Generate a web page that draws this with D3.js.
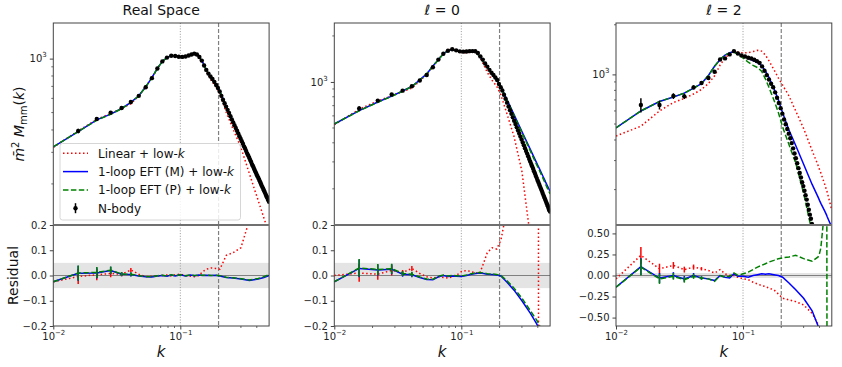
<!DOCTYPE html>
<html>
<head>
<meta charset="utf-8">
<title>Multipoles</title>
<script src="https://cdnjs.cloudflare.com/ajax/libs/d3/7.8.5/d3.min.js"></script>
<style>
  body { margin: 0; background: #fff; }
  svg { font-family: "DejaVu Sans", sans-serif; }
</style>
</head>
<body>
<svg id="chart" width="842" height="367"></svg>
<script>
// N-body k bins
const kData = [0.0157,0.0220,0.0283,0.0345,0.0408,0.0471,0.0534,0.0597,0.0660,0.0722,0.0785,0.0848,0.0911,0.0973,0.1036,0.1099,0.1162,0.1225,0.1287,0.1350,0.1413,0.1476,0.1539,0.1601,0.1664,0.1727,0.1790,0.1853,0.1915,0.1978,0.2041,0.2104,0.2167,0.2230,0.2292,0.2355,0.2418,0.2481,0.2544,0.2606,0.2669,0.2732,0.2795,0.2858,0.2920,0.2983,0.3046,0.3109,0.3172,0.3234,0.3297,0.3360,0.3423,0.3486,0.3548,0.3611,0.3674,0.3737,0.3800,0.3862,0.3925,0.3988,0.4051,0.4114,0.4176,0.4239,0.4302,0.4365,0.4428,0.4490,0.4553,0.4616,0.4679,0.4742,0.4804,0.4867,0.4930,0.4993];

const nbodyReal = [395,460,500,530,573,620,692,778,880,965,1013,1038,1035,1025,1022,1028,1040,1055,1066,1055,1020,975,915,865,825,795,770,742,712,685,655,
  620,590,564,540,518,497,477,458,441,425,410,396,382,369,357,346,335,324,315,305,296,288,280,272,265,257,251,244,238,232,226,221,216,211,206,201,196,192,188,184,180,176,172,169,166,162,159];
const nbodyL0 = [670,755,828,877,937,1022,1111,1248,1400,1530,1600,1636,1610,1585,1578,1582,1590,1592,1588,1545,1470,1400,1320,1260,1200,1150,1110,1070,1030,970,925,
  880,824,776,732,691,654,619,587,558,531,505,482,460,439,420,402,385,369,354,340,327,314,302,291,281,271,261,252,243,235,227,220,213,206,200,194,188,182,177,172,167,162,158,154,149,145,142];
const nbodyL2 = [652,652,739,736,834,886,950,1037,1230,1250,1322,1384,1340,1304,1285,
  1262,1248,1226,1203,1175,1118,1052,990,932,878,835,778,722,670,624,
  578,533,498,466,437,410,383,356,331,310,289,270,252,237,222,210,197,185,174,162,151,141,133,124,116,
  null,null,null,null,null,null,null,null,null,null,null,null,null,null,null,null,null,null,null,null,null,null,null];

// relative errors of the first N-body bins
const errReal = [0.03,0.022,0.015,0.008,0.008];
const errL0 = [0.035,0.022,0.02,0.01,0.01];
const errL2 = [0.1,0.06,0.04,0.035,0.03,0.02];

// theory k grid
const kModel = [0.01,0.0157,0.022,0.0283,0.0345,0.0408,0.0471,0.0534,0.0597,0.066,0.0722,0.0785,0.0848,0.0911,0.1,0.11,0.12,0.13,0.14,0.15,0.16,0.175,0.19,0.205,0.23,0.26,0.3,0.35,0.39,0.4,0.41,0.44,0.455,0.46,0.5];

const linReal  = [320,395,458,495,527,560,617,696,780,880,965,1012,1040,1032,1020,1028,1052,1068,1025,950,850,757,700,640,500,405,319,228,180,171,162,139,129,126,106];
const eftMReal = [322,392,455,490,527,570,620,696,783,882,965,1016,1036,1037,1022,1030,1048,1064,1028,955,866,776,718,656,541,448,360,284,238,229,220,196,185,182,159];
const eftPReal = [322,392,454,489,526,569,620,695,782,881,964,1015,1036,1037,1021,1030,1048,1064,1028,955,866,776,718,656,540,447,359,283,237,228,219,195,184,181,158];

const linL0  = [525,663,751,812,866,911,1014,1117,1260,1407,1542,1616,1644,1610,1562,1551,1567,1570,1450,1295,1156,1022,937,820,610,440,260,95,30,20,10,null,null,null,null];
const eftML0 = [531,650,739,808,873,934,1032,1129,1270,1400,1530,1600,1636,1612,1586,1582,1590,1572,1466,1350,1254,1130,1040,930,759,611,474,361,298,285,273,241,227,222,192];
const eftPL0 = [531,648,737,806,870,932,1030,1127,1268,1398,1528,1600,1634,1611,1585,1580,1588,1570,1464,1348,1252,1128,1038,930,755,605,466,353,290,278,266,234,220,215,185];

const linL2  = [423,485,600,675,715,760,810,880,980,1140,1260,1330,1370,1365,1350,1355,1375,1400,1385,1310,1210,1070,950,860,740,600,470,345,280,265,252,215,198,193,150];
const eftML2 = [474,600,685,730,770,825,880,985,1120,1230,1310,1355,1371,1340,1295,1250,1215,1180,1130,1050,960,820,700,585,460,370,285,215,180,172,165,148,140,137,118];
const eftPL2 = [474,600,685,730,770,825,880,985,1120,1230,1310,1350,1365,1320,1260,1185,1135,1100,1045,940,835,700,585,480,375,290,190,110,75,65,55,38,28,null,null];

// residuals on the theory grid
const resLinReal = [-0.025,-0.004,0.003,0.008,0.005,0.022,0.005,-0.005,-0.003,-0.002,0.0,0.002,-0.002,0.003,0.005,0.0,-0.003,-0.005,0.0,0.015,0.025,0.03,0.028,0.025,0.08,0.09,0.11,0.22,0.3,0.32,0.34,0.4,0.43,0.44,0.5];
const resMReal = [-0.025,0.009,0.01,0.02,0.005,0.004,-0.002,-0.005,-0.006,-0.002,0.0,-0.003,0.002,-0.002,0.003,-0.002,0.002,-0.001,0.002,0.0,0.001,0.0,0.001,-0.002,-0.008,-0.01,-0.014,-0.02,-0.016,-0.015,-0.014,-0.01,-0.008,-0.007,0.0];
const resPReal = [-0.025,0.01,0.012,0.021,0.006,0.005,-0.001,-0.004,-0.005,-0.001,0.001,-0.002,0.003,-0.001,0.003,-0.001,0.002,0.0,0.002,0.001,0.001,0.0,0.001,-0.001,-0.007,-0.009,-0.013,-0.018,-0.014,-0.013,-0.012,-0.008,-0.005,-0.004,0.004];

const resLinL0 = [0.0,0.01,0.005,0.02,0.012,0.028,0.008,-0.005,-0.01,-0.005,-0.008,-0.01,-0.005,0.0,0.015,0.02,0.015,0.01,0.01,0.05,0.09,0.11,0.105,0.14,0.27,0.45,0.6,1.2,2.5,5,-5,-3,-2.5,-2.4,-2];
const resML0 = [-0.025,0.028,0.022,0.025,0.005,0.003,-0.008,-0.016,-0.017,-0.005,0.0,-0.004,-0.002,-0.003,-0.004,0.0,0.005,0.008,0.01,0.008,0.005,0.004,0.002,-0.002,-0.028,-0.058,-0.1,-0.15,-0.19,-0.2,-0.21,-0.245,-0.26,-0.265,-0.3];
const resPL0 = [-0.025,0.03,0.024,0.027,0.008,0.005,-0.006,-0.014,-0.015,-0.003,0.002,-0.002,0.0,-0.001,-0.002,0.002,0.007,0.01,0.012,0.01,0.007,0.006,0.004,0.0,-0.022,-0.05,-0.09,-0.14,-0.175,-0.185,-0.195,-0.23,-0.245,-0.25,-0.28];

const resLinL2 = [-0.04,0.24,0.08,0.12,0.07,0.1,0.08,0.06,0.03,0.07,0.02,0.0,0.0,-0.02,-0.04,-0.05,-0.08,-0.1,-0.12,-0.13,-0.15,-0.17,-0.22,-0.27,-0.29,-0.31,-0.35,-0.45,-0.58,-0.62,-0.66,-0.78,-0.83,-0.85,-1.0];
const resML2 = [-0.14,0.106,-0.03,0.0,-0.04,0.0,-0.03,-0.04,-0.06,0.0,-0.02,-0.03,0.02,-0.01,-0.01,-0.02,0.0,0.01,0.02,0.015,0.02,0.01,0.0,-0.02,-0.09,-0.17,-0.27,-0.42,-0.6,-0.64,-0.68,-0.8,-0.85,-0.87,-1.0];
const resPL2 = [-0.14,0.1,-0.04,-0.01,-0.05,-0.01,-0.03,-0.04,-0.07,0.0,-0.02,-0.01,0.03,0.0,0.02,0.04,0.07,0.1,0.12,0.14,0.16,0.18,0.2,0.21,0.22,0.24,0.2,0.17,0.22,0.26,0.33,0.8,3,-3,-2];

// ticks
const xMajor = [0.01, 0.1];
const xMinor = [0.02,0.03,0.04,0.05,0.06,0.07,0.08,0.09,0.2,0.3,0.4];
const yMajor = [1000];
const yMinor = [200,300,400,500,600,700,800,900,2000];
const resTicksSmall = [-0.2,-0.1,0,0.1,0.2];
const resTicksWide = [-0.5,-0.25,0,0.25,0.5];
const kDotted = 0.1, kDashed = 0.2;

const panels = [
  { title: "Real Space", left: 53.3, yDom: [118, 1580], nbody: nbodyReal, err: errReal,
    lin: linReal, eftM: eftMReal, eftP: eftPReal, rLin: resLinReal, rM: resMReal, rP: resPReal,
    rLim: 0.2, rTicks: resTicksSmall, rFmt: ".1f", band: 0.05 },
  { title: "l0", left: 334.3, yDom: [116, 2430], nbody: nbodyL0, err: errL0,
    lin: linL0, eftM: eftML0, eftP: eftPL0, rLin: resLinL0, rM: resML0, rP: resPL0,
    rLim: 0.2, rTicks: resTicksSmall, rFmt: ".1f", band: 0.05 },
  { title: "l2", left: 616, yDom: [122, 2050], nbody: nbodyL2, err: errL2,
    lin: linL2, eftM: eftML2, eftP: eftPL2, rLin: resLinL2, rM: resML2, rP: resPL2,
    rLim: 0.6, rTicks: resTicksWide, rFmt: ".2f", band: 0.03 }
];

const W = 215.8, topY = 23, midY = 225, botY = 326;
const RED = "#ff0000", BLUE = "#0000ff", GREEN = "#008000";
const svg = d3.select("#chart");
const defs = svg.append("defs");

function supText(sel, base, sup) {
  sel.text(base);
  sel.append("tspan").attr("dy", -5).attr("font-size", 7).text(sup);
}

panels.forEach((p, i) => {
  const x = d3.scaleLog().domain([0.01, 0.5]).range([p.left, p.left + W]);
  const y = d3.scaleLog().domain(p.yDom).range([midY, topY]);
  const yr = d3.scaleLinear().domain([-p.rLim, p.rLim]).range([botY, midY]);
  const g = svg.append("g");

  defs.append("clipPath").attr("id", "ct" + i).append("rect")
    .attr("x", p.left).attr("y", topY).attr("width", W).attr("height", midY - topY);
  defs.append("clipPath").attr("id", "cb" + i).append("rect")
    .attr("x", p.left).attr("y", midY).attr("width", W).attr("height", botY - midY);

  const top = g.append("g").attr("clip-path", `url(#ct${i})`);
  const bot = g.append("g").attr("clip-path", `url(#cb${i})`);

  // residual band and zero line
  bot.append("rect").attr("x", p.left).attr("width", W)
    .attr("y", yr(p.band)).attr("height", yr(-p.band) - yr(p.band)).attr("fill", "#e4e4e4");
  bot.append("line").attr("x1", p.left).attr("x2", p.left + W)
    .attr("y1", yr(0)).attr("y2", yr(0)).attr("stroke", "#808080").attr("stroke-width", 1.2);

  // reference scales
  [[top, topY, midY], [bot, midY, botY]].forEach(([s, a, b]) => {
    s.append("line").attr("x1", x(kDotted)).attr("x2", x(kDotted)).attr("y1", a).attr("y2", b)
      .attr("stroke", "#999").attr("stroke-width", 1).attr("stroke-dasharray", "1,1.7");
    s.append("line").attr("x1", x(kDashed)).attr("x2", x(kDashed)).attr("y1", a).attr("y2", b)
      .attr("stroke", "#808080").attr("stroke-width", 1.2).attr("stroke-dasharray", "4,2");
  });

  const styles = [
    { key: "lin", rkey: "rLin", color: RED, dash: "1.5,2.5" },
    { key: "eftM", rkey: "rM", color: BLUE, dash: null },
    { key: "eftP", rkey: "rP", color: GREEN, dash: "5.5,2.4" }
  ];

  const lineTop = d3.line().defined(d => d[1] != null && d[1] > 0)
    .x(d => x(d[0])).y(d => y(d[1]));
  const lineRes = d3.line().x(d => x(d[0])).y(d => yr(d[1]));

  styles.forEach(s => {
    top.append("path").datum(kModel.map((k, j) => [k, p[s.key][j]]))
      .attr("d", lineTop).attr("fill", "none").attr("stroke", s.color)
      .attr("stroke-width", 1.5).attr("stroke-dasharray", s.dash);
  });
  styles.forEach(s => {
    const vals = p[s.rkey];
    bot.append("path").datum(kModel.map((k, j) => [k, vals[j]]))
      .attr("d", lineRes).attr("fill", "none").attr("stroke", s.color)
      .attr("stroke-width", 1.5).attr("stroke-dasharray", s.dash);
    // error bars at the first data bins
    p.err.forEach((e, j) => {
      const k = kModel[j + 1], r = vals[j + 1];
      bot.append("line").attr("x1", x(k)).attr("x2", x(k))
        .attr("y1", yr(r + e)).attr("y2", yr(r - e))
        .attr("stroke", s.color).attr("stroke-width", 1.5);
    });
  });

  // N-body points
  const pts = kData.map((k, j) => ({ k: k, v: p.nbody[j], e: p.err[j] || 0 })).filter(d => d.v != null);
  top.selectAll("line.eb").data(pts.filter(d => d.e > 0)).join("line")
    .attr("x1", d => x(d.k)).attr("x2", d => x(d.k))
    .attr("y1", d => y(d.v * (1 + d.e))).attr("y2", d => y(d.v * (1 - d.e)))
    .attr("stroke", "#000").attr("stroke-width", 1.5);
  top.selectAll("circle").data(pts).join("circle")
    .attr("cx", d => x(d.k)).attr("cy", d => y(d.v)).attr("r", 2.2).attr("fill", "#000");

  // frames
  g.append("rect").attr("x", p.left).attr("y", topY).attr("width", W).attr("height", botY - topY)
    .attr("fill", "none").attr("stroke", "#444").attr("stroke-width", 1);
  g.append("line").attr("x1", p.left).attr("x2", p.left + W).attr("y1", midY).attr("y2", midY)
    .attr("stroke", "#707070").attr("stroke-width", 2);

  // top y axis (log)
  const ya = g.append("g").attr("transform", `translate(${p.left},0)`)
    .call(d3.axisLeft(y).tickValues(yMajor).tickSize(3.5).tickPadding(3));
  ya.select(".domain").remove();
  ya.selectAll("text").attr("font-size", 10).attr("fill", "#222").attr("font-family", "DejaVu Sans")
    .each(function () { supText(d3.select(this), "10", "3"); });
  g.selectAll("line.ymin" + i).data(yMinor.filter(v => v > p.yDom[0] && v < p.yDom[1])).join("line")
    .attr("x1", p.left - 2).attr("x2", p.left).attr("y1", d => y(d)).attr("y2", d => y(d))
    .attr("stroke", "#444").attr("stroke-width", 0.8);

  // residual y axis
  const ra = g.append("g").attr("transform", `translate(${p.left},0)`)
    .call(d3.axisLeft(yr).tickValues(p.rTicks).tickFormat(d3.format(p.rFmt)).tickSize(3.5).tickPadding(3));
  ra.select(".domain").remove();
  ra.selectAll("text").attr("font-size", 10).attr("fill", "#222").attr("font-family", "DejaVu Sans");

  // x axis
  const xa = g.append("g").attr("transform", `translate(0,${botY})`)
    .call(d3.axisBottom(x).tickValues(xMajor).tickSize(3.5).tickPadding(3));
  xa.select(".domain").remove();
  xa.selectAll("text").attr("font-size", 10).attr("fill", "#222").attr("font-family", "DejaVu Sans")
    .each(function (d) { supText(d3.select(this), "10", "\u2212" + Math.round(-Math.log10(d))); });
  g.selectAll("line.xmin" + i).data(xMinor).join("line")
    .attr("x1", d => x(d)).attr("x2", d => x(d)).attr("y1", botY).attr("y2", botY + 2)
    .attr("stroke", "#444").attr("stroke-width", 0.8);
  g.selectAll(".tick line").attr("stroke", "#444");

  // titles and k label
  const cx = p.left + W / 2;
  const t = g.append("text").attr("x", cx).attr("y", 15).attr("text-anchor", "middle")
    .attr("font-size", 14).attr("fill", "#111");
  if (p.title === "Real Space") t.text("Real Space");
  else {
    t.append("tspan").attr("font-style", "italic").text("\u2113");
    t.append("tspan").text(" = " + p.title.slice(1));
  }
  g.append("text").attr("x", cx).attr("y", 357).attr("text-anchor", "middle")
    .attr("font-size", 15).attr("font-style", "italic").attr("fill", "#111").text("k");
});

// y labels
const yl = svg.append("text").attr("transform", "translate(24,124) rotate(-90)")
  .attr("text-anchor", "middle").attr("font-size", 14).attr("fill", "#111");
yl.append("tspan").attr("font-style", "italic").text("m\u0304");
yl.append("tspan").attr("dy", -5).attr("font-size", 10).text("2");
yl.append("tspan").attr("dy", 5).attr("font-style", "italic").text(" M");
yl.append("tspan").attr("dy", 3).attr("font-size", 10).text("mm");
yl.append("tspan").attr("dy", -3).text("(");
yl.append("tspan").attr("font-style", "italic").text("k");
yl.append("tspan").text(")");

svg.append("text").attr("transform", "translate(18,275.5) rotate(-90)")
  .attr("text-anchor", "middle").attr("font-size", 14).attr("fill", "#111").text("Residual");

// legend
const legendItems = [
  { label: "Linear + low-", color: RED, dash: "1.5,2.5" },
  { label: "1-loop EFT (M) + low-", color: BLUE, dash: null },
  { label: "1-loop EFT (P) + low-", color: GREEN, dash: "5.5,2.4" },
  { label: "N-body", color: "#000", dash: null, marker: true }
];
const lg = svg.append("g");
lg.append("rect").attr("x", 60).attr("y", 143.5).attr("width", 180.5).attr("height", 76.5).attr("rx", 2.5)
  .attr("fill", "#fff").attr("fill-opacity", 0.85).attr("stroke", "#cccccc").attr("stroke-width", 0.8);
legendItems.forEach((it, j) => {
  const yy = 153.3 + j * 18.3;
  if (it.marker) {
    lg.append("line").attr("x1", 75.5).attr("x2", 75.5).attr("y1", yy - 5).attr("y2", yy + 5)
      .attr("stroke", "#000").attr("stroke-width", 1.5);
    lg.append("circle").attr("cx", 75.5).attr("cy", yy).attr("r", 2.2).attr("fill", "#000");
  } else {
    lg.append("line").attr("x1", 63).attr("x2", 88).attr("y1", yy).attr("y2", yy)
      .attr("stroke", it.color).attr("stroke-width", 1.5).attr("stroke-dasharray", it.dash);
  }
  const tx = lg.append("text").attr("x", 98).attr("y", yy + 4.3).attr("font-size", 12).attr("fill", "#111");
  tx.append("tspan").text(it.label);
  if (!it.marker) tx.append("tspan").attr("font-style", "italic").text("k");
});
</script>
</body>
</html>
